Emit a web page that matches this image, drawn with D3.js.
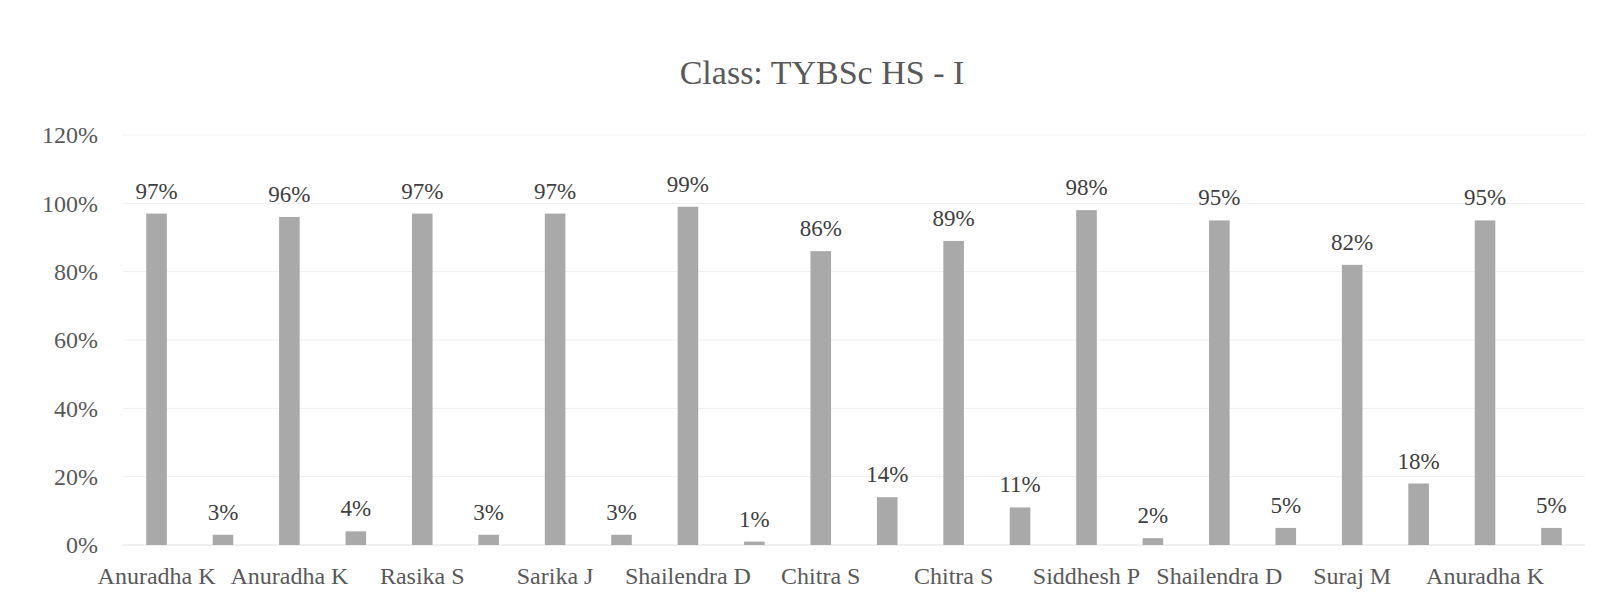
<!DOCTYPE html>
<html>
<head>
<meta charset="utf-8">
<script src="https://cdn.jsdelivr.net/npm/d3@7"></script>
<style>
  body { margin: 0; background: #fff; }
  svg text { font-family: "Liberation Serif", "DejaVu Serif", serif; }
</style>
</head>
<body>
<svg id="chart" width="1612" height="609"></svg>
<script>
const names = ["Anuradha K", "Anuradha K", "Rasika S", "Sarika J", "Shailendra D", "Chitra S",
               "Chitra S", "Siddhesh P", "Shailendra D", "Suraj M", "Anuradha K"];
const present = [97, 96, 97, 97, 99, 86, 89, 98, 95, 82, 95];
const absent = [3, 4, 3, 3, 1, 14, 11, 2, 5, 18, 5];
const yTicks = [0, 20, 40, 60, 80, 100, 120];

const svg = d3.select("#chart");
const margin = { left: 123, right: 27, top: 135, bottom: 64 };
const width = +svg.attr("width");
const height = +svg.attr("height");

// one slot per bar, two slots per student; only the first slot gets a label
const bars = [];
names.forEach((n, i) => {
    bars.push({ key: i * 2, name: n, value: present[i], label: true });
    bars.push({ key: i * 2 + 1, name: n, value: absent[i], label: false });
});

const x = d3.scaleBand()
    .domain(bars.map(d => d.key))
    .range([margin.left, width - margin.right])
    .paddingInner(0.69)
    .paddingOuter(0.35);

const y = d3.scaleLinear()
    .domain([0, 120])
    .range([height - margin.bottom, margin.top]);

// title
svg.append("text")
    .attr("x", 822)
    .attr("y", 84)
    .attr("text-anchor", "middle")
    .attr("font-size", 34)
    .attr("fill", "#595959")
    .text("Class: TYBSc HS - I");

// gridlines
svg.append("g")
    .selectAll("line")
    .data(yTicks)
    .join("line")
    .attr("x1", margin.left)
    .attr("x2", width - margin.right)
    .attr("y1", d => y(d))
    .attr("y2", d => y(d))
    .attr("stroke", d => d === 0 ? "#e0e0e0" : "#efefef")
    .attr("stroke-width", 1);

// y axis
const yAxis = d3.axisLeft(y)
    .tickValues(yTicks)
    .tickFormat(d => d + "%")
    .tickSize(0)
    .tickPadding(25);
svg.append("g")
    .attr("transform", `translate(${margin.left},0)`)
    .call(yAxis)
    .call(g => g.select(".domain").remove())
    .call(g => g.selectAll("text")
        .attr("font-size", 24)
        .attr("fill", "#595959")
        .attr("font-family", "Liberation Serif, serif"));

// x axis (labels under first bar of each pair)
const xAxis = d3.axisBottom(x)
    .tickValues(bars.filter(d => d.label).map(d => d.key))
    .tickFormat(k => bars[k].name)
    .tickSize(0)
    .tickPadding(22);
svg.append("g")
    .attr("transform", `translate(0,${height - margin.bottom})`)
    .call(xAxis)
    .call(g => g.select(".domain").remove())
    .call(g => g.selectAll("text")
        .attr("font-size", 24)
        .attr("fill", "#595959")
        .attr("font-family", "Liberation Serif, serif"));

// bars
svg.append("g")
    .selectAll("rect")
    .data(bars)
    .join("rect")
    .attr("x", d => x(d.key))
    .attr("width", x.bandwidth())
    .attr("y", d => y(d.value))
    .attr("height", d => y(0) - y(d.value))
    .attr("fill", "#a9a9a9");

// data labels
svg.append("g")
    .selectAll("text")
    .data(bars)
    .join("text")
    .attr("x", d => x(d.key) + x.bandwidth() / 2)
    .attr("y", d => y(d.value) - 15)
    .attr("text-anchor", "middle")
    .attr("font-size", 23)
    .attr("fill", "#404040")
    .text(d => d.value + "%");
</script>
</body>
</html>
